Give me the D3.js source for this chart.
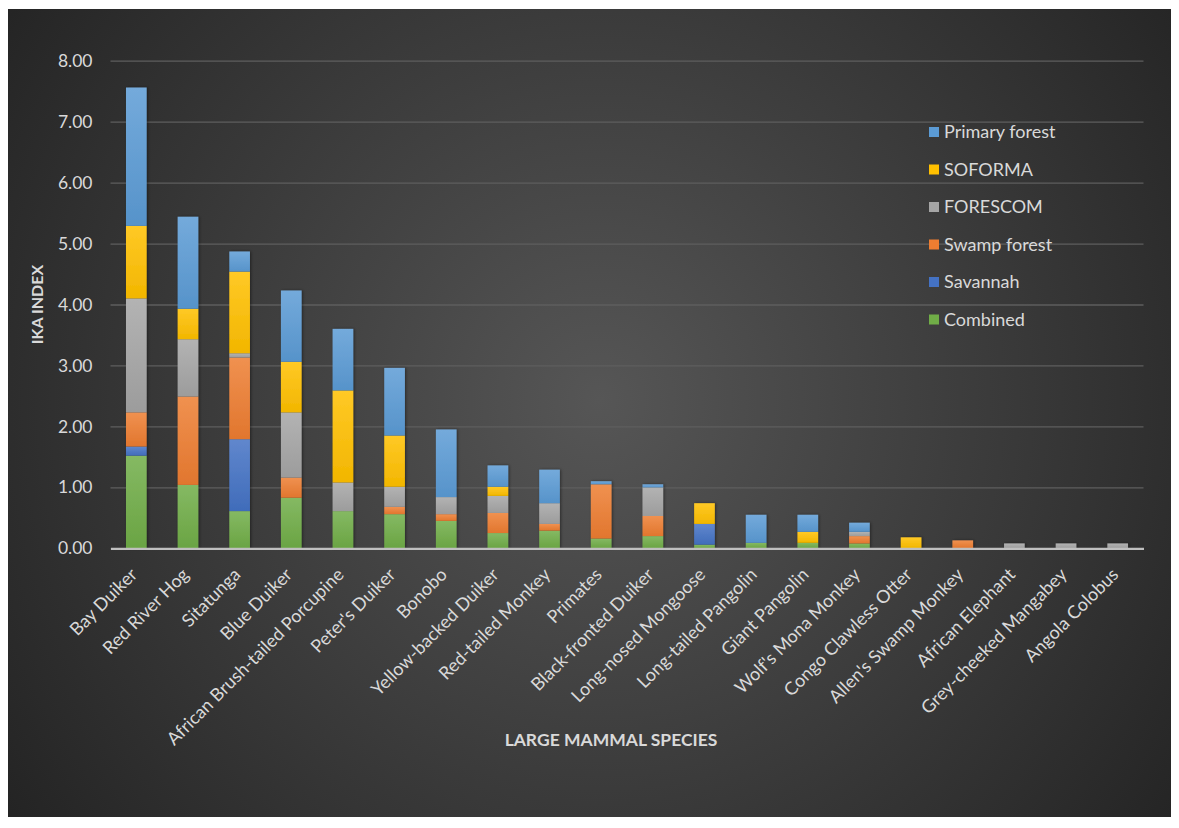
<!DOCTYPE html>
<html>
<head>
<meta charset="utf-8">
<script src="https://cdn.jsdelivr.net/npm/d3@7"></script>
<style>
  html, body { margin: 0; padding: 0; background: #ffffff; }
  svg { display: block; }
  text { font-family: Lato, "Open Sans", "DejaVu Sans", sans-serif; }
</style>
</head>
<body>
<svg id="chart" width="1179" height="828"></svg>
<script>
// Species on the category axis
const species = [
  "Bay Duiker", "Red River Hog", "Sitatunga", "Blue Duiker",
  "African Brush-tailed Porcupine", "Peter's Duiker", "Bonobo",
  "Yellow-backed Duiker", "Red-tailed Monkey", "Primates",
  "Black-fronted Duiker", "Long-nosed Mongoose", "Long-tailed Pangolin",
  "Giant Pangolin", "Wolf's Mona Monkey", "Congo Clawless Otter",
  "Allen's Swamp Monkey", "African Elephant", "Grey-cheeked Mangabey",
  "Angola Colobus"
];

// IKA index per habitat (stacked bottom to top)
const combined = [1.52, 1.04, 0.61, 0.83, 0.61, 0.56, 0.45, 0.25, 0.29, 0.16, 0.20, 0.06, 0.09, 0.09, 0.08, 0, 0, 0, 0, 0];
const savannah = [0.15, 0, 1.18, 0, 0, 0, 0, 0, 0, 0, 0, 0.34, 0, 0, 0, 0, 0, 0, 0, 0];
const swampForest = [0.56, 1.45, 1.34, 0.33, 0, 0.12, 0.11, 0.33, 0.11, 0.89, 0.33, 0, 0, 0, 0.12, 0, 0.13, 0, 0, 0];
const forescom = [1.87, 0.94, 0.07, 1.07, 0.47, 0.33, 0.28, 0.28, 0.34, 0, 0.47, 0, 0, 0, 0.07, 0, 0, 0.08, 0.08, 0.08];
const soforma = [1.19, 0.50, 1.34, 0.83, 1.51, 0.84, 0, 0.15, 0, 0, 0, 0.34, 0, 0.18, 0, 0.18, 0, 0, 0, 0];
const primaryForest = [2.27, 1.51, 0.33, 1.17, 1.01, 1.11, 1.11, 0.35, 0.55, 0.05, 0.05, 0, 0.46, 0.28, 0.15, 0, 0, 0, 0, 0];

const seriesNames = ["Combined", "Savannah", "Swamp forest", "FORESCOM", "SOFORMA", "Primary forest"];
const seriesValues = [combined, savannah, swampForest, forescom, soforma, primaryForest];
const yTicks = [0, 1, 2, 3, 4, 5, 6, 7, 8];

const colors = {
  "Combined": "#70ad47",
  "Savannah": "#4472c4",
  "Swamp forest": "#ed7d31",
  "FORESCOM": "#a5a5a5",
  "SOFORMA": "#ffc000",
  "Primary forest": "#5b9bd5"
};

const svg = d3.select("#chart");
const defs = svg.append("defs");

// Dark radial backdrop of the chart area
const bg = defs.append("radialGradient").attr("id", "bg")
  .attr("gradientUnits", "userSpaceOnUse")
  .attr("cx", 600).attr("cy", 400).attr("r", 720);
bg.append("stop").attr("offset", "0%").attr("stop-color", "#565656");
bg.append("stop").attr("offset", "100%").attr("stop-color", "#242424");

svg.append("rect")
  .attr("x", 8).attr("y", 9).attr("width", 1163).attr("height", 808)
  .attr("fill", "url(#bg)");

// Per-series vertical gradient: lighter at the top of each segment
seriesNames.forEach((name, i) => {
  const c = d3.color(colors[name]);
  const g = defs.append("linearGradient").attr("id", "g" + i)
    .attr("x1", 0).attr("y1", 0).attr("x2", 0).attr("y2", 1);
  g.append("stop").attr("offset", "0%").attr("stop-color", d3.interpolateRgb(c, "#ffffff")(0.15));
  g.append("stop").attr("offset", "100%").attr("stop-color", c.darker(0.15));
});

const shadow = defs.append("filter").attr("id", "shadow")
  .attr("x", "-30%").attr("y", "-10%").attr("width", "160%").attr("height", "120%");
shadow.append("feDropShadow").attr("dx", 1).attr("dy", 0).attr("stdDeviation", 1.5)
  .attr("flood-color", "#000").attr("flood-opacity", 0.45);

const plot = { left: 110.5, right: 1143.5, top: 60.7, bottom: 548.3 };

const x = d3.scaleBand().domain(species)
  .range([plot.left, plot.right]).paddingInner(0.6).paddingOuter(0.3);
const y = d3.scaleLinear().domain([0, 8]).range([plot.bottom, plot.top]);

// Gridlines and value labels
const yAxis = d3.axisLeft(y).tickValues(yTicks).tickFormat(d3.format(".2f"))
  .tickSize(-(plot.right - plot.left)).tickPadding(18);
const yg = svg.append("g").attr("transform", `translate(${plot.left},0)`).call(yAxis);
yg.select(".domain").remove();
yg.selectAll(".tick line").attr("stroke", "#5e5e5e").attr("stroke-width", 1.3);
yg.selectAll(".tick text").attr("fill", "#d9d9d9").style("font-size", "17.5px");

// Stacked bars
const rows = species.map((s, i) => {
  const r = { species: s };
  seriesNames.forEach((n, k) => { r[n] = seriesValues[k][i]; });
  return r;
});
const stacked = d3.stack().keys(seriesNames)(rows);

svg.append("g").attr("filter", "url(#shadow)")
  .selectAll("g").data(stacked).join("g")
  .attr("fill", (d, i) => `url(#g${i})`)
  .selectAll("rect").data(d => d.filter(p => p[1] - p[0] > 0)).join("rect")
  .attr("x", d => x(d.data.species))
  .attr("width", x.bandwidth())
  .attr("y", d => y(d[1]))
  .attr("height", d => y(d[0]) - y(d[1]));

// Category axis with labels slanted at 45 degrees
const xAxis = d3.axisBottom(x).tickSize(0);
const xg = svg.append("g").attr("transform", `translate(0,${plot.bottom})`).call(xAxis);
xg.select(".domain").attr("stroke", "#bfbfbf").attr("stroke-width", 2.2);
xg.selectAll(".tick text")
  .attr("fill", "#d9d9d9").style("font-size", "18px")
  .attr("text-anchor", "end")
  .attr("x", 0).attr("y", 0)
  .attr("dy", "0.35em")
  .attr("transform", "translate(-2.5,23) rotate(-45)");

// Axis titles
svg.append("text")
  .attr("transform", `translate(43,${(plot.top + plot.bottom) / 2}) rotate(-90)`)
  .attr("text-anchor", "middle")
  .attr("fill", "#d9d9d9").style("font-size", "16px").style("font-weight", "bold")
  .text("IKA INDEX");

svg.append("text")
  .attr("x", 611).attr("y", 746)
  .attr("text-anchor", "middle")
  .attr("fill", "#d9d9d9").style("font-size", "17.5px").style("font-weight", "bold")
  .text("LARGE MAMMAL SPECIES");

// Legend, top entry is the highest stack layer
const legendNames = seriesNames.slice().reverse();
const legend = svg.append("g").attr("transform", "translate(929,132)");
const item = legend.selectAll("g").data(legendNames).join("g")
  .attr("transform", (d, i) => `translate(0,${i * 37.5})`);
item.append("rect").attr("x", 0).attr("y", -5).attr("width", 10).attr("height", 10)
  .attr("fill", d => colors[d]);
item.append("text").attr("x", 15).attr("y", 0).attr("dy", "0.35em")
  .attr("fill", "#d9d9d9").style("font-size", "18px")
  .text(d => d);
</script>
</body>
</html>
